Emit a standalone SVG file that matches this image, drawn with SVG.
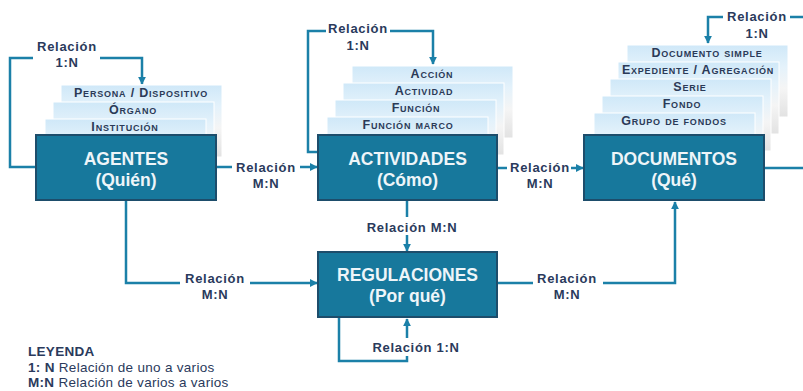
<svg xmlns="http://www.w3.org/2000/svg" width="803" height="391" viewBox="0 0 803 391">
<defs>
<linearGradient id="cardG" x1="0" y1="0" x2="0" y2="1">
<stop offset="0" stop-color="#cfe8f8"/>
<stop offset="0.3" stop-color="#e4f2fb"/>
<stop offset="0.6" stop-color="#f5f5f5"/>
<stop offset="1" stop-color="#e2e2e2"/>
</linearGradient>
<marker id="arr" viewBox="0 0 10 10" refX="9" refY="5" markerWidth="3.2" markerHeight="3.2" orient="auto" markerUnits="strokeWidth">
<path d="M0,0 L10,5 L0,10 z" fill="#1b80a8"/>
</marker>
</defs>
<style>
.card{fill:url(#cardG);stroke:#ffffff;stroke-width:1}
.ct{font-family:"Liberation Sans",Arial,sans-serif;font-weight:bold;font-size:12.5px;font-variant:small-caps;fill:#2b3a57;text-anchor:middle;letter-spacing:0.8px}
.box{fill:#17789c;stroke:#1d4d6b;stroke-width:2}
.bt{font-family:"Liberation Sans",Arial,sans-serif;font-weight:bold;font-size:17.5px;fill:#eef5f9;text-anchor:middle}
.ln{fill:none;stroke:#1b80a8;stroke-width:2.5}
.la{fill:none;stroke:#1b80a8;stroke-width:2.5;marker-end:url(#arr)}
.lb{font-family:"Liberation Sans",Arial,sans-serif;font-weight:bold;font-size:13px;fill:#2a3a5c;text-anchor:middle;letter-spacing:0.7px}
.lg{font-family:"Liberation Sans",Arial,sans-serif;font-size:13.5px;fill:#2a3a5c;letter-spacing:0.3px}
</style>
<rect width="803" height="391" fill="#ffffff"/>

<g id="connectors">
<path class="ln" d="M36,167 H10 V58 H33"/>
<path class="la" d="M100,58 H142 V84"/>
<path class="ln" d="M216,167 H232"/>
<path class="la" d="M300,167 H317"/>
<path class="ln" d="M318,152 H308 V31 H326"/>
<path class="la" d="M390,31 H433 V64"/>
<path class="ln" d="M497,168 H507"/>
<path class="la" d="M571,168 H583"/>
<path class="ln" d="M764,168 H808 V17 H790"/>
<path class="la" d="M723,17 H708 V43"/>
<path class="ln" d="M407,201 V217"/>
<path class="la" d="M407,235 V251"/>
<path class="ln" d="M126,201 V283 H180"/>
<path class="la" d="M250,283 H317"/>
<path class="ln" d="M497,283 H533"/>
<path class="la" d="M603,283 H675 V202"/>
<path class="ln" d="M339,318 V361 H407 V356"/>
<path class="la" d="M407,338 V319"/>
</g>

<g id="agentes">
<rect class="card" x="61" y="85" width="161" height="72"/>
<rect class="card" x="53" y="102" width="161" height="72"/>
<rect class="card" x="45" y="119" width="161" height="72"/>
<text class="ct" x="141" y="96.5">Persona / Dispositivo</text>
<text class="ct" x="133" y="113.5">Órgano</text>
<text class="ct" x="125" y="130.5">Institución</text>
<rect class="box" x="36" y="135" width="180" height="65"/>
<text class="bt" x="126" y="165">AGENTES</text>
<text class="bt" x="126" y="186">(Quién)</text>
</g>

<g id="actividades">
<rect class="card" x="352" y="66" width="161" height="72"/>
<rect class="card" x="343" y="83" width="161" height="72"/>
<rect class="card" x="335" y="100" width="161" height="72"/>
<rect class="card" x="327" y="117" width="161" height="72"/>
<text class="ct" x="432" y="77.5">Acción</text>
<text class="ct" x="424" y="94.5">Actividad</text>
<text class="ct" x="416" y="111.5">Función</text>
<text class="ct" x="408" y="128.5">Función marco</text>
<rect class="box" x="318" y="135" width="179" height="65"/>
<text class="bt" x="407.5" y="165">ACTIVIDADES</text>
<text class="bt" x="407.5" y="186">(Cómo)</text>
</g>

<g id="documentos">
<rect class="card" x="627" y="45" width="161" height="72"/>
<rect class="card" x="618" y="62" width="161" height="72"/>
<rect class="card" x="610" y="79" width="161" height="72"/>
<rect class="card" x="602" y="96" width="161" height="72"/>
<rect class="card" x="594" y="113" width="161" height="72"/>
<text class="ct" x="707" y="57">Documento simple</text>
<text class="ct" x="698" y="74">Expediente / Agregación</text>
<text class="ct" x="690" y="91">Serie</text>
<text class="ct" x="682" y="108">Fondo</text>
<text class="ct" x="674" y="125">Grupo de fondos</text>
<rect class="box" x="584" y="135" width="180" height="65"/>
<text class="bt" x="674" y="165">DOCUMENTOS</text>
<text class="bt" x="674" y="186">(Qué)</text>
</g>

<g id="regulaciones">
<rect class="box" x="318" y="252" width="179" height="65"/>
<text class="bt" x="407.5" y="281">REGULACIONES</text>
<text class="bt" x="407.5" y="302">(Por qué)</text>
</g>

<g id="labels">
<text class="lb" x="67" y="51">Relación</text>
<text class="lb" x="67" y="67">1:N</text>
<text class="lb" x="358" y="33">Relación</text>
<text class="lb" x="358" y="50">1:N</text>
<text class="lb" x="757" y="21">Relación</text>
<text class="lb" x="757" y="38">1:N</text>
<text class="lb" x="266" y="172">Relación</text>
<text class="lb" x="266" y="188">M:N</text>
<text class="lb" x="540" y="172">Relación</text>
<text class="lb" x="540" y="188">M:N</text>
<text class="lb" x="412" y="232">Relación M:N</text>
<text class="lb" x="215" y="283">Relación</text>
<text class="lb" x="215" y="299">M:N</text>
<text class="lb" x="567" y="283">Relación</text>
<text class="lb" x="567" y="299">M:N</text>
<text class="lb" x="416" y="352">Relación 1:N</text>
</g>

<g id="leyenda">
<text class="lg" x="28" y="356" font-weight="bold">LEYENDA</text>
<text class="lg" x="28" y="372"><tspan font-weight="bold">1: N</tspan> Relación de uno a varios</text>
<text class="lg" x="28" y="387"><tspan font-weight="bold">M:N</tspan> Relación de varios a varios</text>
</g>
</svg>
